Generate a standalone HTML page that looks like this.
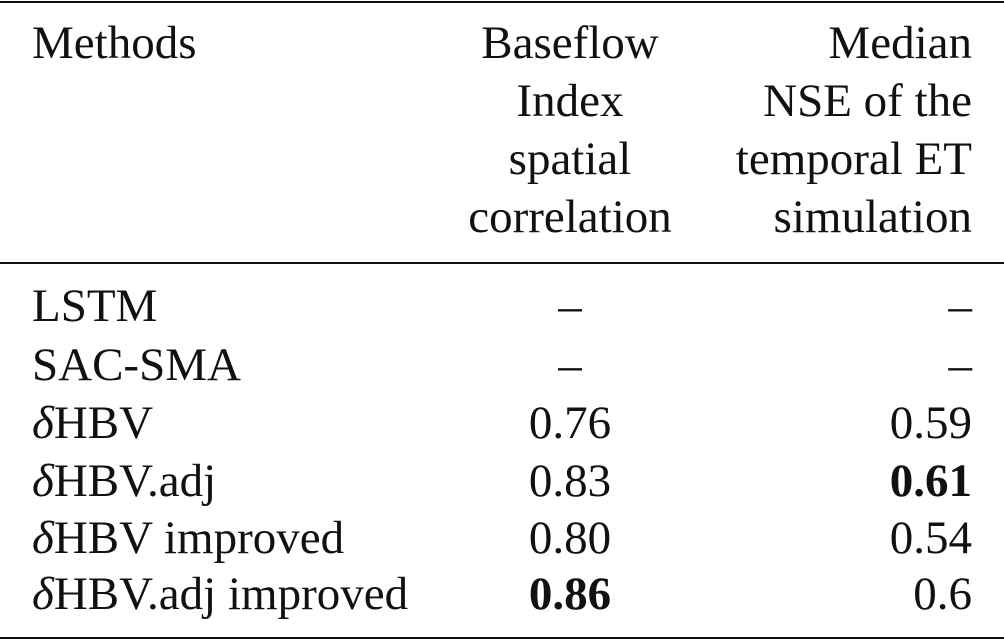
<!DOCTYPE html>
<html><head><meta charset="utf-8"><style>
body{margin:0;background:#fff;}
#t{position:relative;width:1004px;height:642px;font-family:"Liberation Serif",serif;font-size:47px;color:#111;line-height:58px;}
.r{position:absolute;left:0;width:1004px;height:58px;}
.c1{position:absolute;left:32px;white-space:nowrap;}
.c2{position:absolute;left:420px;width:300px;text-align:center;white-space:nowrap;}
.c3{position:absolute;right:32px;text-align:right;white-space:nowrap;}
.rule{position:absolute;left:0;width:1004px;background:#111;}
b{font-weight:bold;}
</style></head><body>
<div id="t">
<div class="rule" style="top:1px;height:2px"></div>
<div class="r" style="top:14px">
 <div class="c1">Methods</div>
 <div class="c2">Baseflow<br>Index<br>spatial<br>correlation</div>
 <div class="c3">Median<br>NSE of the<br>temporal ET<br>simulation</div>
</div>
<div class="rule" style="top:262px;height:2px"></div>
<div class="r" style="top:277px"><div class="c1">LSTM</div><div class="c2">–</div><div class="c3">–</div></div>
<div class="r" style="top:336px"><div class="c1">SAC-SMA</div><div class="c2">–</div><div class="c3">–</div></div>
<div class="r" style="top:394px"><div class="c1"><i>δ</i>HBV</div><div class="c2">0.76</div><div class="c3">0.59</div></div>
<div class="r" style="top:452px"><div class="c1"><i>δ</i>HBV.adj</div><div class="c2">0.83</div><div class="c3"><b>0.61</b></div></div>
<div class="r" style="top:509px"><div class="c1"><i>δ</i>HBV improved</div><div class="c2">0.80</div><div class="c3">0.54</div></div>
<div class="r" style="top:565px"><div class="c1"><i>δ</i>HBV.adj improved</div><div class="c2"><b>0.86</b></div><div class="c3">0.6</div></div>
<div class="rule" style="top:637px;height:2px"></div>
</div>
</body></html>
